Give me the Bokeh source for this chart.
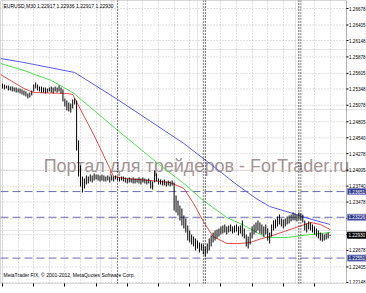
from bokeh.plotting import figure
from bokeh.models import (Range1d, LinearAxis, FixedTicker, Label, Span, Grid,
                          BoxAnnotation, ColumnDataSource)
from bokeh.core.properties import value
from bokeh.embed import file_html
from bokeh.resources import INLINE

# ---------------- data ----------------
symbol_text = "EURUSD,M30  1.22917 1.22936 1.22917 1.22930"
copyright_text = "MetaTrader FIX, \u00a9 2001-2012, MetaQuotes Software Corp."
watermark = "Портал для трейдеров - ForTrader.ru"

highs = [1.25438, 1.25421, 1.25405, 1.25405, 1.25388, 1.25388, 1.25372, 1.25372, 1.25355, 1.25355,
         1.25339, 1.25322, 1.25306, 1.25273, 1.25289, 1.25322, 1.25421, 1.25455, 1.25421, 1.25388,
         1.25388, 1.25372, 1.25372, 1.25355, 1.25372, 1.25388, 1.25372, 1.25388, 1.25372, 1.25405,
         1.25372, 1.25339, 1.25190, 1.25157, 1.25124, 1.25107, 1.25174, 1.25190, 1.25157, 1.24496,
         1.24082, 1.23900, 1.23867, 1.23917, 1.23900, 1.23933, 1.23917, 1.23950, 1.23933, 1.23933,
         1.23917, 1.23933, 1.23917, 1.23900, 1.23917, 1.23900, 1.23917, 1.23900, 1.23917, 1.23900,
         1.23884, 1.23900, 1.23900, 1.23884, 1.23867, 1.23884, 1.23867, 1.23884, 1.23867, 1.23867,
         1.23884, 1.23867, 1.23884, 1.23867, 1.23851, 1.23867, 1.23834, 1.23818, 1.24000, 1.23950,
         1.23867, 1.23851, 1.23834, 1.23851, 1.23818, 1.23834, 1.23818, 1.23834, 1.23801, 1.23586,
         1.23503, 1.23421, 1.23371, 1.23256, 1.23206, 1.23090, 1.23008, 1.22941, 1.22908, 1.22875,
         1.22842, 1.22809, 1.22793, 1.22776, 1.22743, 1.22793, 1.22875, 1.22925, 1.22974, 1.23008,
         1.23024, 1.23041, 1.23074, 1.23090, 1.23107, 1.23074, 1.23090, 1.23107, 1.23074, 1.23090,
         1.23107, 1.23074, 1.23090, 1.23173, 1.23041, 1.22941, 1.22908, 1.22974, 1.23074, 1.23107,
         1.23140, 1.23173, 1.23140, 1.23107, 1.23074, 1.23107, 1.23041, 1.22974, 1.23107, 1.23173,
         1.23190, 1.23239, 1.23272, 1.23206, 1.23190, 1.23206, 1.23239, 1.23256, 1.23272, 1.23305,
         1.23289, 1.23272, 1.23305, 1.23289, 1.23272, 1.23173, 1.23123, 1.23157, 1.23140, 1.23107,
         1.23074, 1.23041, 1.23008, 1.22974, 1.22958, 1.22941, 1.22958, 1.22974, 1.22936]

lows = [1.25355, 1.25339, 1.25355, 1.25322, 1.25322, 1.25306, 1.25306, 1.25289, 1.25289, 1.25273,
        1.25256, 1.25240, 1.25223, 1.25190, 1.25207, 1.25240, 1.25306, 1.25355, 1.25322, 1.25306,
        1.25289, 1.25289, 1.25273, 1.25289, 1.25306, 1.25289, 1.25273, 1.25306, 1.25289, 1.25306,
        1.25273, 1.25140, 1.25058, 1.24992, 1.24975, 1.24958, 1.25025, 1.25091, 1.24330, 1.23900,
        1.23735, 1.23636, 1.23702, 1.23768, 1.23785, 1.23818, 1.23801, 1.23834, 1.23851, 1.23834,
        1.23818, 1.23834, 1.23818, 1.23818, 1.23834, 1.23801, 1.23834, 1.23818, 1.23851, 1.23834,
        1.23818, 1.23834, 1.23818, 1.23801, 1.23785, 1.23801, 1.23801, 1.23785, 1.23785, 1.23801,
        1.23785, 1.23768, 1.23801, 1.23785, 1.23768, 1.23785, 1.23702, 1.23685, 1.23801, 1.23818,
        1.23768, 1.23768, 1.23752, 1.23752, 1.23735, 1.23752, 1.23735, 1.23752, 1.23338, 1.23305,
        1.23256, 1.23173, 1.23090, 1.23041, 1.22974, 1.22842, 1.22809, 1.22776, 1.22743, 1.22677,
        1.22710, 1.22644, 1.22677, 1.22611, 1.22578, 1.22627, 1.22677, 1.22743, 1.22809, 1.22842,
        1.22875, 1.22908, 1.22941, 1.22958, 1.22974, 1.22941, 1.22974, 1.22991, 1.22958, 1.22974,
        1.22991, 1.22925, 1.22958, 1.22908, 1.22875, 1.22743, 1.22710, 1.22776, 1.22875, 1.22941,
        1.22974, 1.23008, 1.22958, 1.22941, 1.22908, 1.22941, 1.22842, 1.22793, 1.22908, 1.23008,
        1.23041, 1.23074, 1.23107, 1.23074, 1.23041, 1.23074, 1.23107, 1.23123, 1.23157, 1.23173,
        1.23173, 1.23157, 1.23190, 1.23173, 1.23140, 1.23008, 1.22974, 1.23024, 1.23008, 1.22974,
        1.22941, 1.22908, 1.22875, 1.22842, 1.22826, 1.22842, 1.22859, 1.22875, 1.22917]

bar_index = list(range(len(highs)))

blue_idx = [-1, 11, 37, 59, 76, 93, 105, 120, 130, 137, 149, 156, 168]
blue_val = [1.25851, 1.25785, 1.25620, 1.25174, 1.24810, 1.24446, 1.24148, 1.23768,
            1.23537, 1.23404, 1.23289, 1.23214, 1.23107]

green_idx = [-1, 11, 25, 36, 50, 61, 81, 93, 103, 115, 124, 135, 146, 158, 168]
green_val = [1.25769, 1.25653, 1.25488, 1.25289, 1.24909, 1.24611, 1.24082, 1.23785,
             1.23503, 1.23223, 1.23090, 1.22892, 1.22892, 1.22941, 1.22974]

red_idx = [-1, 11, 16, 33, 36, 47, 57, 63, 76, 86, 93, 98, 103, 108, 115, 122, 127,
           133, 137, 149, 158, 163, 168]
red_val = [1.25587, 1.25355, 1.25289, 1.25273, 1.25256, 1.24578, 1.23900, 1.23867,
           1.23834, 1.23801, 1.23702, 1.23454, 1.23157, 1.22908, 1.22793, 1.22793,
           1.22809, 1.22875, 1.22908, 1.23041, 1.23140, 1.23107, 1.23024]

price_ticks = [1.26678, 1.26405, 1.26148, 1.25878, 1.25605, 1.25348, 1.25078, 1.24805,
               1.24540, 1.24278, 1.24005, 1.23740, 1.23478, 1.23208, 1.22940, 1.22678,
               1.22405, 1.22148]

time_idx = [0, 16, 32, 48, 64, 80, 96, 112, 128, 144, 160]
time_labels = ["4 Jul 2012", "5 Jul 02:30", "5 Jul 10:30", "5 Jul 18:30", "6 Jul 02:00",
               "6 Jul 10:00", "6 Jul 18:30", "9 Jul 03:00", "9 Jul 11:00", "9 Jul 19:00",
               "10 Jul 03:00"]
grid_idx = [0, 8, 16, 24, 32, 40, 48, 56, 64, 72, 80, 88, 96, 104, 112, 120, 128, 136,
            144, 152, 160, 168]

hlines = [1.23651, 1.23226, 1.22551]
vlines = [59, 103, 104, 152, 153]
last_price = 1.22930

# ---------------- layout helpers ----------------
W, FH = 366, 283          # frame covers full width; price scale drawn inside it
CHART_W = 346             # chart area (left of the price scale)
PX_PER_BAR = 1.95
PX_PER_PRICE = 6048.0
X_START = -2 / PX_PER_BAR
X_END = X_START + CHART_W / PX_PER_BAR
X_MAX = X_START + W / PX_PER_BAR
Y_TOP = 1.26678 + 8 / PX_PER_PRICE
Y_BOT = Y_TOP - FH / PX_PER_PRICE


def sx(px):
    return X_START + px / PX_PER_BAR


def sy(py):
    return Y_TOP - py / PX_PER_PRICE


FONT = "Liberation Sans"

p = figure(frame_width=W, frame_height=FH,
           x_range=Range1d(X_START, X_MAX), y_range=Range1d(Y_BOT, Y_TOP),
           output_backend="svg", toolbar_location=None,
           x_axis_location=None, y_axis_location=None,
           min_border_left=0, min_border_top=0, min_border_right=0, min_border_bottom=10,
           background_fill_color="white", border_fill_color="white")
p.outline_line_color = None

# time axis (ticks only; labels drawn left-aligned below)
xaxis = LinearAxis(ticker=FixedTicker(ticks=time_idx, minor_ticks=[]),
                   major_label_overrides={t: "" for t in time_idx},
                   major_label_text_font_size="4px", major_label_standoff=0,
                   major_tick_out=3, major_tick_in=0,
                   axis_line_color=None, major_tick_line_color="black")
p.add_layout(xaxis, "below")

# vertical grid
p.add_layout(Grid(dimension=0, ticker=FixedTicker(ticks=grid_idx, minor_ticks=[]),
                  grid_line_color="#c4c4c4", grid_line_dash="1 2"))

# watermark
p.add_layout(Label(x=sx(196), y=sy(165), text=watermark, text_align="center",
                   text_baseline="alphabetic", text_font=FONT, text_font_size="18px",
                   text_color="#a39494", level="underlay"))

# horizontal grid (chart area only)
p.segment(x0=[X_START] * len(price_ticks), x1=[X_END] * len(price_ticks),
          y0=price_ticks, y1=price_ticks, line_color="#c4c4c4", line_dash="1 2",
          line_width=1)

# separators
for v in vlines:
    p.add_layout(Span(location=v, dimension="height", line_color="black",
                      line_dash="1 2", line_width=1))
p.segment(x0=[X_START] * len(hlines), x1=[X_END] * len(hlines), y0=hlines, y1=hlines,
          line_color="#6e6eb0", line_dash="8 4", line_width=1)

# moving averages
p.line(blue_idx, blue_val, line_color="#5a5af0", line_width=1)
p.line(green_idx, green_val, line_color="#50e050", line_width=1)
p.line(red_idx, red_val, line_color="#f04848", line_width=1)

# bars
src = ColumnDataSource(dict(x=bar_index, hi=highs, lo=lows))
p.segment(x0="x", y0="lo", x1="x", y1="hi", source=src, line_color="black", line_width=1)

# chart border (left, top, right = price scale line, bottom)
p.add_layout(BoxAnnotation(left=X_START, right=X_END, top=Y_TOP, bottom=Y_BOT,
                           fill_alpha=0, line_color="black", line_width=1))

# price scale: ticks and labels
p.segment(x0=[X_END] * len(price_ticks), x1=[X_END + 2 / PX_PER_BAR] * len(price_ticks),
          y0=price_ticks, y1=price_ticks, line_color="black", line_width=1)
p.text(x=[X_END + 2.5 / PX_PER_BAR] * len(price_ticks), y=price_ticks,
       text=["%.5f" % t for t in price_ticks], text_baseline="middle", text_align="left",
       text_font=value(FONT), text_font_size="4.6px", text_color="black")

# texts
p.add_layout(Label(x=sx(3), y=sy(2), text=symbol_text, text_align="left",
                   text_baseline="top", text_font=FONT, text_font_size="5px",
                   text_color="black"))
p.add_layout(Label(x=sx(3), y=sy(274), text=copyright_text, text_align="left",
                   text_baseline="alphabetic", text_font=FONT, text_font_size="5px",
                   text_color="black"))

for ti, tl in zip(time_idx, time_labels):
    p.add_layout(Label(x=ti, y=sy(285), text=tl, text_align="left", text_baseline="top",
                       text_font=FONT, text_font_size="4.5px", text_color="black",
                       x_offset=0.5))


def box(price, fill, border):
    kw = dict(x=X_END, y=price, text="%.5f" % price, text_align="left",
              text_baseline="middle", text_font=FONT, text_font_size="4.6px",
              text_color="white", background_fill_color=fill, background_fill_alpha=1.0,
              border_line_color=border, x_offset=1)
    try:
        lab = Label(padding=1, **kw)
    except Exception:
        lab = Label(**kw)
    p.add_layout(lab)


for h in hlines:
    box(h, "#2e3a8c", "#8c8cc8")
box(last_price, "black", "black")

open("out.html", "w").write(file_html(p, INLINE))
